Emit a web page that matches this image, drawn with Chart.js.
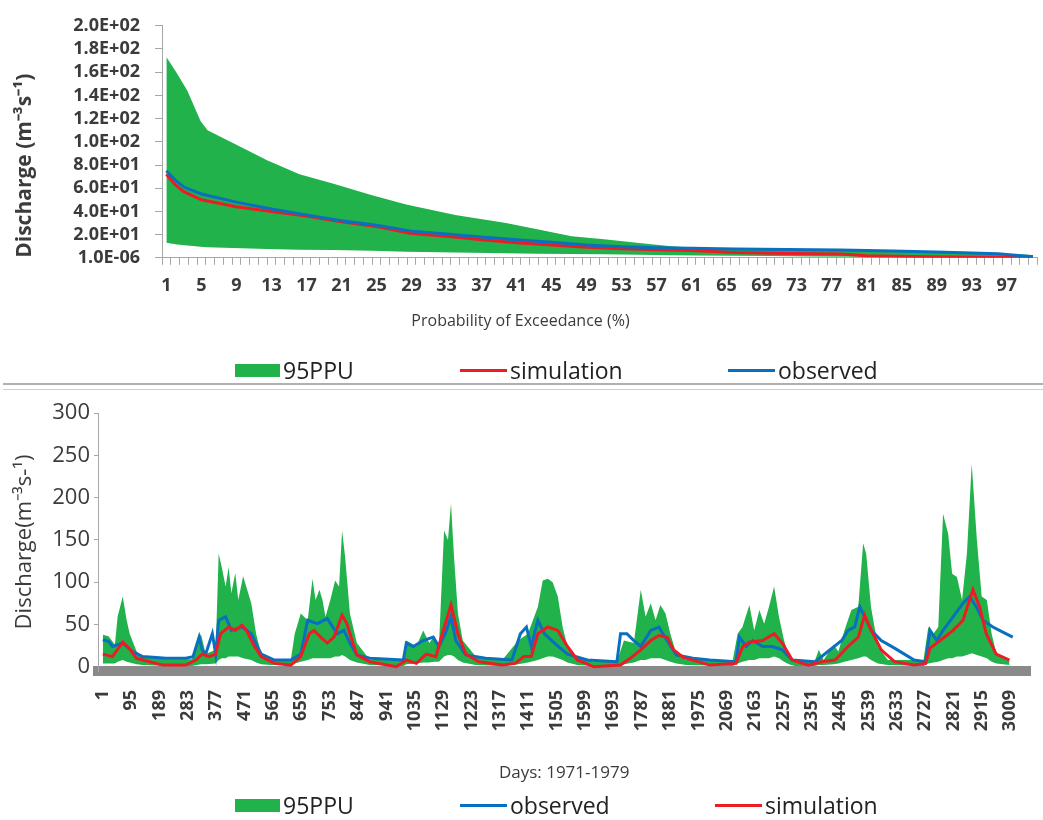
<!DOCTYPE html>
<html>
<head>
<meta charset="utf-8">
<script src="https://cdn.jsdelivr.net/npm/chart.js@4.4.1/dist/chart.umd.min.js"></script>
<style>
html,body{margin:0;padding:0;background:#fff;overflow:hidden;width:1043px;height:820px;}
#wrap{position:relative;width:1043px;height:820px;}
#c1{position:absolute;left:0;top:0;}
#c2{position:absolute;left:0;top:392px;}
.sep{position:absolute;left:3px;width:1040px;top:383px;height:4px;border-top:2px solid #b0b0b0;border-bottom:1px solid #cfcfcf;}
.legend{position:absolute;left:0;width:1043px;height:30px;font-family:'Open Sans',sans-serif;font-size:23px;color:#222;}
.li{position:absolute;top:0;height:30px;display:flex;align-items:center;white-space:nowrap;}
.sw{display:inline-block;margin-right:3px;}
</style>
</head>
<body>
<div id="wrap">
  <canvas id="c1" width="1043" height="383"></canvas>
  <div id="leg1" class="legend" style="top:355px"></div>
  <div class="sep"></div>
  <canvas id="c2" width="1043" height="428"></canvas>
  <div id="leg2" class="legend" style="top:790px"></div>
</div>
<script>
// ---------- Panel 1: flow duration curve ----------
const pctLabelTicks = [1,5,9,13,17,21,25,29,33,37,41,45,49,53,57,61,65,69,73,77,81,85,89,93,97];
const yTopTickValues = [0,20,40,60,80,100,120,140,160,180,200];
const yTopTickLabels = ['1.0E-06','2.0E+01','4.0E+01','6.0E+01','8.0E+01','1.0E+02','1.2E+02','1.4E+02','1.6E+02','1.8E+02','2.0E+02'];

const pctBand  = [1, 2.2, 3.4, 4.9, 5.7, 8.6, 12.5, 16.2, 20, 24.5, 28.4, 34, 39.8, 43.5, 47.3, 51, 55, 58.7, 61.7, 66, 70, 75, 80, 85, 90, 95, 100];
const pctUpper = [173, 159, 144, 118, 110, 99, 84, 72, 64, 54, 46, 37, 30, 24.5, 18.6, 16, 12.7, 10, 8.4, 7.8, 7.2, 6.8, 6.2, 5.6, 5, 4.2, 2.5];
const pctLower = [13, 11.5, 10.5, 9.5, 9, 8.4, 7.6, 7, 6.8, 6, 5.2, 4.5, 4, 3.5, 3.2, 3, 2.6, 2.3, 2, 1.8, 1.5, 1.2, 1, 0.8, 0.5, 0.3, 0];

const pctObs = [1, 2, 3, 5, 9, 13, 17, 21, 25, 29, 33, 37, 41, 45, 49, 53, 57, 61, 66, 72, 78, 84, 90, 96, 100];
const obsFdc = [75, 67, 61, 55, 48, 42, 37, 32, 28, 23, 20.5, 18, 15.5, 13.5, 11, 9.5, 8.6, 8.2, 7.6, 7.2, 6.8, 5.8, 4.8, 3.5, 1];

const pctSim = [1, 2, 3, 5, 9, 13, 17, 21, 25, 29, 33, 37, 41, 45, 49, 53, 57, 61, 66, 72, 78, 81, 88, 94, 100];
const simFdc = [72, 63, 57, 50, 44, 40, 36, 31, 27, 21, 18.5, 15.5, 13, 11, 9, 7.8, 7, 6.2, 4.5, 3.8, 3.2, 1.8, 1, 0.5, 0.2];

// ---------- Panel 2: daily time series ----------
const dayTicks = [1,95,189,283,377,471,565,659,753,847,941,1035,1129,1223,1317,1411,1505,1599,1693,1787,1881,1975,2069,2163,2257,2351,2445,2539,2633,2727,2821,2915,3009];
const yBotTickValues = [0,50,100,150,200,250,300];

const bandDays = [1,20,41,50,67,80,90,113,133,211,296,326,342,375,385,395,408,418,427,440,450,466,493,509,526,558,624,637,657,680,696,706,719,729,739,755,771,784,794,804,820,843,886,997,1007,1040,1063,1083,1099,1115,1132,1145,1155,1165,1178,1194,1237,1325,1378,1410,1443,1459,1476,1492,1509,1525,1541,1574,1630,1705,1728,1761,1784,1800,1817,1833,1849,1866,1882,1902,1935,2089,2105,2121,2144,2160,2177,2193,2209,2226,2242,2259,2275,2295,2360,2374,2390,2423,2439,2459,2482,2505,2521,2531,2547,2570,2603,2721,2737,2754,2770,2786,2803,2816,2832,2849,2865,2881,2898,2914,2931,2947,2963,3006];
const bandUpper = [38,36,26,59,83,55,39,18,12,9,9,39,15,20,134,118,95,118,87,111,79,107,75,39,15,8,8,39,63,55,104,79,91,79,59,79,102,95,161,130,63,28,8,8,31,24,43,28,36,24,161,150,193,130,63,31,12,8,31,39,71,102,104,100,83,47,24,10,6,6,31,28,91,59,75,55,73,63,39,15,8,8,39,47,73,43,67,51,71,95,59,31,12,6,6,20,8,26,18,43,67,71,146,134,71,24,8,8,47,39,47,181,157,110,106,79,134,240,150,83,79,39,15,8];
const bandLower = [4,4,4,6,8,6,5,3,2,1,1,3,3,4,8,10,10,12,12,12,12,10,8,5,3,2,2,4,6,8,10,10,10,10,10,10,12,12,14,12,8,5,2,1,3,4,5,5,6,6,12,14,14,12,8,5,2,1,3,5,8,10,12,12,10,8,5,2,1,1,3,5,8,8,10,10,10,8,6,4,2,1,4,6,8,8,10,10,10,12,10,6,3,1,1,2,2,3,4,6,8,10,12,12,8,4,2,1,4,5,6,8,10,10,12,12,14,16,14,12,10,6,4,2];

const obsDays = [1,20,33,50,67,100,133,211,276,300,320,330,342,364,375,385,408,427,462,493,526,570,624,657,680,712,745,778,800,820,843,886,997,1007,1030,1063,1096,1115,1136,1155,1171,1204,1270,1357,1385,1405,1421,1443,1465,1498,1541,1607,1705,1717,1738,1761,1784,1817,1844,1871,1902,1957,2013,2100,2111,2133,2155,2188,2220,2253,2286,2362,2450,2471,2493,2510,2526,2548,2581,2625,2690,2728,2743,2765,2786,2819,2852,2874,2896,2918,2951,2984,3017];
const obsFlow = [32,30,24,26,28,18,12,10,10,12,35,20,15,39,15,55,59,43,47,39,15,8,8,15,55,51,57,39,43,28,14,10,8,28,24,31,35,24,39,59,31,14,10,8,39,47,24,55,39,28,15,8,6,39,39,31,24,43,47,31,14,10,8,6,35,24,31,24,24,20,8,6,31,43,47,71,59,43,31,22,8,6,43,31,43,59,75,83,71,55,47,41,35];

const simDays = [1,33,67,90,113,156,200,276,309,331,353,375,391,418,440,462,477,504,526,570,624,657,685,701,723,745,767,794,810,827,843,886,974,1007,1040,1073,1105,1126,1155,1178,1204,1248,1325,1368,1396,1421,1443,1476,1509,1541,1574,1629,1717,1749,1784,1817,1844,1871,1893,1925,2013,2100,2122,2144,2188,2226,2253,2286,2340,2384,2428,2471,2505,2526,2548,2581,2625,2690,2728,2743,2776,2819,2852,2885,2907,2929,2962,3006];
const simFlow = [15,12,29,21,10,6,2,2,8,15,12,15,39,47,43,49,43,24,12,4,2,12,39,43,35,28,35,61,51,31,14,6,0,8,4,15,12,39,73,39,15,6,2,4,12,12,39,47,43,24,8,0,2,10,20,31,37,35,20,11,2,4,24,29,31,39,28,8,2,6,8,24,35,61,43,20,6,2,4,22,31,43,55,91,71,39,15,8];

// ---------- styling ----------
const GREEN = '#21b24b', RED = '#ec1c24', BLUE = '#0b6fbf', AXIS = '#a6a6a6', TXT = '#3b3b3b';
Chart.defaults.font.family = "'Open Sans', sans-serif";
Chart.defaults.color = TXT;

const xy = (xs, ys) => xs.map((x, i) => ({x: x, y: ys[i]}));

const htmlLegend = {
  id: 'htmlLegend',
  afterUpdate(chart, args, opts) {
    const box = document.getElementById(opts.containerID);
    while (box.firstChild) box.firstChild.remove();
    let slot = 0;
    chart.data.datasets.forEach((ds) => {
      if (!ds.label) return;
      const li = document.createElement('div');
      li.className = 'li';
      li.style.left = opts.slots[slot++] + 'px';
      const sw = document.createElement('span');
      sw.className = 'sw';
      if (ds.fill && ds.fill !== false) {
        sw.style.width = '45px'; sw.style.height = '13px'; sw.style.background = ds.backgroundColor;
      } else {
        sw.style.width = '47px'; sw.style.height = '3px'; sw.style.background = ds.borderColor;
      }
      const tx = document.createElement('span');
      tx.textContent = ds.label;
      li.appendChild(sw); li.appendChild(tx);
      box.appendChild(li);
    });
  }
};

// ---------- chart 1 ----------
new Chart(document.getElementById('c1'), {
  type: 'line',
  plugins: [htmlLegend],
  data: {
    datasets: [
      {label: '95PPU', data: xy(pctBand, pctUpper), fill: '+1', backgroundColor: GREEN, borderColor: 'rgba(0,0,0,0)', borderWidth: 1, pointRadius: 0, order: 10},
      {label: '', data: xy(pctBand, pctLower), fill: false, borderColor: 'rgba(0,0,0,0)', borderWidth: 1, pointRadius: 0, order: 11},
      {label: 'simulation', data: xy(pctSim, simFdc), fill: false, borderColor: RED, borderWidth: 3, pointRadius: 0, order: 1},
      {label: 'observed', data: xy(pctObs, obsFdc), fill: false, borderColor: BLUE, borderWidth: 3, pointRadius: 0, order: 0}
    ]
  },
  options: {
    responsive: false, animation: false, devicePixelRatio: 1,
    layout: {padding: {top: 20, right: 2, left: 0, bottom: 0}},
    plugins: {
      legend: {display: false},
      tooltip: {enabled: false},
      htmlLegend: {containerID: 'leg1', slots: [235, 460, 728]},
      title: {display: true, position: 'bottom', text: 'Probability of Exceedance (%)', color: TXT,
              font: {size: 16, weight: 'normal'}, padding: {top: 14, bottom: 52}}
    },
    scales: {
      x: {
        type: 'linear', min: 0.5, max: 100.5,
        afterBuildTicks: (s) => { const t = []; for (let v = 1; v <= 100; v++) t.push({value: v}); s.ticks = t; },
        afterFit: (s) => { s.height = 40; },
        ticks: {autoSkip: false, maxRotation: 0, minRotation: 0, padding: 10, color: TXT,
                font: {size: 18, weight: 'bold'},
                callback: (v) => pctLabelTicks.includes(v) ? String(v) : ''},
        grid: {display: true, drawOnChartArea: false, offset: true, tickLength: 7, color: AXIS},
        border: {display: true, color: AXIS, width: 1}
      },
      y: {
        type: 'linear', min: 0, max: 200,
        afterBuildTicks: (s) => { s.ticks = yTopTickValues.map(v => ({value: v})); },
        afterFit: (s) => { s.width = 162; },
        ticks: {autoSkip: false, padding: 15, color: TXT, font: {size: 18, weight: 'bold'},
                callback: (v) => yTopTickLabels[yTopTickValues.indexOf(v)]},
        grid: {display: true, drawOnChartArea: false, tickLength: 7, color: AXIS},
        border: {display: true, color: AXIS, width: 1},
        title: {display: true, text: 'Discharge (m\u207B\u00B3s\u207B\u00B9)', align: 'start', color: TXT,
                font: {size: 21, weight: 'bold'}, padding: {top: 12, bottom: 0}}
      }
    }
  }
});

// ---------- chart 2 ----------
new Chart(document.getElementById('c2'), {
  type: 'line',
  plugins: [htmlLegend],
  data: {
    datasets: [
      {label: '95PPU', data: xy(bandDays, bandUpper), fill: '+1', backgroundColor: GREEN, borderColor: 'rgba(0,0,0,0)', borderWidth: 1, pointRadius: 0, order: 10},
      {label: '', data: xy(bandDays, bandLower), fill: false, borderColor: 'rgba(0,0,0,0)', borderWidth: 1, pointRadius: 0, order: 11},
      {label: 'observed', data: xy(obsDays, obsFlow), fill: false, borderColor: BLUE, borderWidth: 3, pointRadius: 0, order: 1},
      {label: 'simulation', data: xy(simDays, simFlow), fill: false, borderColor: RED, borderWidth: 3, pointRadius: 0, order: 0}
    ]
  },
  options: {
    responsive: false, animation: false, devicePixelRatio: 1,
    layout: {padding: {top: 21, right: 2, left: 0, bottom: 0}},
    plugins: {
      legend: {display: false},
      tooltip: {enabled: false},
      htmlLegend: {containerID: 'leg2', slots: [235, 460, 715]}
    },
    scales: {
      x: {
        type: 'linear', min: -15, max: 3075,
        afterBuildTicks: (s) => { s.ticks = dayTicks.map(v => ({value: v})); },
        afterFit: (s) => { s.height = 149; },
        ticks: {autoSkip: false, maxRotation: 90, minRotation: 90, padding: 11, color: TXT,
                font: {size: 18, weight: 'bold'}, callback: (v) => String(v)},
        grid: {display: false},
        border: {display: true, color: '#8a8a8a', width: 10},
        title: {display: true, text: 'Days: 1971-1979', color: TXT, font: {size: 17, weight: 'normal'},
                padding: {top: 4, bottom: 37}}
      },
      y: {
        type: 'linear', min: -5, max: 300,
        afterBuildTicks: (s) => { s.ticks = yBotTickValues.map(v => ({value: v})); },
        afterFit: (s) => { s.width = 98; },
        ticks: {autoSkip: false, padding: 4, color: TXT, font: {size: 22}, callback: (v) => String(v)},
        grid: {display: true, drawOnChartArea: false, tickLength: 4, color: AXIS},
        border: {display: true, color: AXIS, width: 1},
        title: {display: true, text: 'Discharge(m\u207B\u00B3s-\u00B9)', color: TXT,
                font: {size: 22, weight: 'normal'}, padding: {top: 12, bottom: 0}}
      }
    }
  }
});
</script>
</body>
</html>
